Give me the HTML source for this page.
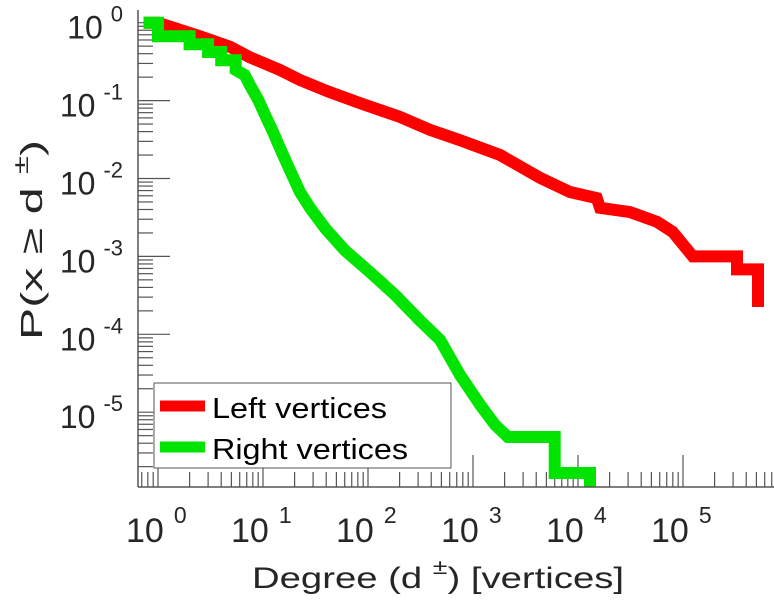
<!DOCTYPE html>
<html><head><meta charset="utf-8"><style>
html,body{margin:0;padding:0;background:#fff}
svg{display:block;font-family:"Liberation Sans",Arial,sans-serif}
</style></head><body>
<svg id="chart" width="774" height="600" viewBox="0 0 774 600">
<g id="ticks"></g>
<g id="series"></g>
<g id="axes"></g>
<g id="labels"></g>
<text transform="translate(42,240) rotate(-90)" text-anchor="middle" font-size="31" fill="#262626" textLength="200" lengthAdjust="spacingAndGlyphs">P(x ≥ d <tspan font-size="21" dy="-14">±</tspan><tspan dy="14">)</tspan></text>
<text x="252" y="588" font-size="30" fill="#262626" textLength="372" lengthAdjust="spacingAndGlyphs">Degree (d  <tspan font-size="21" dy="-14">±</tspan><tspan dy="14">) [vertices]</tspan></text>
<g>
<rect x="154" y="383" width="297" height="85" fill="#fff" stroke="#555" stroke-width="1"/>
<line x1="160" y1="406" x2="205" y2="406" stroke="#ff0000" stroke-width="11"/>
<text x="212" y="418" font-size="29" fill="#000" textLength="175" lengthAdjust="spacingAndGlyphs">Left vertices</text>
<line x1="160" y1="447" x2="205" y2="447" stroke="#00e400" stroke-width="11"/>
<text x="212" y="459" font-size="29" fill="#000" textLength="196" lengthAdjust="spacingAndGlyphs">Right vertices</text>
</g>
</svg>
<script>
const leftDegree=[0.73,1,2.5,4.85,7.5,14.5,22.5,43,84,202,390,752,1810,4350,8400,15100,16200,31300,56800,79700,124000,327000,327000,518000,518000];
const leftProb=[1,1,0.67,0.49,0.36,0.247,0.184,0.129,0.093,0.0615,0.042,0.031,0.02,0.0102,0.0067,0.0056,0.0042,0.0037,0.00277,0.00206,0.001,0.001,0.00068,0.00068,0.000224];
const rightDegree=[0.73,1,1,2,2,3,3,4,4,5.5,5.5,6.7,7.5,9,10.5,12.2,14.5,18,22.5,28,39,60,104,181,313,485,752,1170,1620,2150,6000,6000,13000,13000];
const rightProb=[1,1,0.67,0.67,0.53,0.53,0.42,0.42,0.33,0.33,0.247,0.213,0.158,0.102,0.065,0.042,0.0247,0.0129,0.00668,0.0042,0.0023,0.0012,0.00063,0.00032,0.00015,0.000085,0.00003,0.0000124,0.0000069,0.0000048,0.0000048,0.00000166,0.00000166,0.0000008];
const xDecades=[0,1,2,3,4,5];
const yDecades=[0,-1,-2,-3,-4,-5];
const NS='http://www.w3.org/2000/svg';
const X0=138,X1=774,Y0=10,Y1=487;
function xs(d){return 158+105*Math.log10(d);}
function ys(p){return 22.7-77.9*Math.log10(p);}
function mk(tag,attrs,parent){const e=document.createElementNS(NS,tag);for(const k in attrs)e.setAttribute(k,attrs[k]);parent.appendChild(e);return e;}
const ticks=document.getElementById('ticks'),axes=document.getElementById('axes'),labels=document.getElementById('labels'),series=document.getElementById('series');
for(let e=-1;e<=5;e++){for(let m=1;m<10;m++){const v=m*Math.pow(10,e);const x=xs(v);if(x<X0||x>X1)continue;
 const t=mk('line',{x1:x,x2:x,y1:Y1,y2:Y1-(m===1?32:15),stroke:'#555','stroke-width':1.2},ticks);
 
 }}
for(let e=-6;e<=0;e++){for(let m=1;m<10;m++){const v=m*Math.pow(10,e);const y=ys(v);if(y<Y0||y>Y1)continue;
 const t=mk('line',{x1:X0,x2:X0+(m===1?32:15),y1:y,y2:y,stroke:'#555','stroke-width':1.2},ticks);
 
 }}
const ax=mk('line',{x1:X0,x2:X0,y1:Y0,y2:Y1,stroke:'#555','stroke-width':1.5},axes);


const bx=mk('line',{x1:X0,x2:X1,y1:Y1,y2:Y1,stroke:'#555','stroke-width':1.5},axes);


xDecades.forEach(e=>{const x=xs(Math.pow(10,e));
 const t=mk('text',{x:x-32,y:542,'font-size':34,fill:'#262626'},labels);
 
 
 t.textContent='10';
 const s=mk('tspan',{'font-size':23,dx:10,dy:-19},t);s.textContent=String(e);});
yDecades.forEach(e=>{const y=ys(Math.pow(10,e));
 const t=mk('text',{x:123,y:y+16,'font-size':32,fill:'#262626','text-anchor':'end'},labels);
 
 
 t.textContent='10';
 const s=mk('tspan',{'font-size':22,dx:8,dy:-17},t);s.textContent=String(e);});
const cp=mk('clipPath',{id:'clip'},document.getElementById('chart'));
mk('rect',{x:0,y:0,width:774,height:Y1},cp);
function draw(D,P,color,name){const pts=D.map((d,i)=>xs(d).toFixed(1)+','+ys(P[i]).toFixed(1)).join(' ');
 const pl=mk('polyline',{points:pts,fill:'none',stroke:color,'stroke-width':12,'stroke-linejoin':'miter','clip-path':'url(#clip)'},series);
 
 }
draw(leftDegree,leftProb,'#ff0000','left-vertices-line');
draw(rightDegree,rightProb,'#00e400','right-vertices-line');
</script>
</body></html>
